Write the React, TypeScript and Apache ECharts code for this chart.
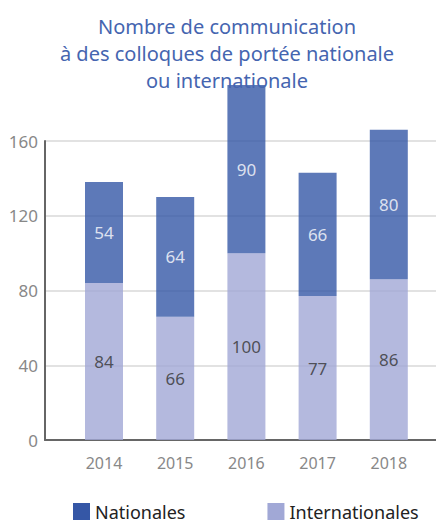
import React, { useEffect, useRef } from "react";
import * as echarts from "echarts";

const titleLines = ["Nombre de communication", "à des colloques de portée nationale", "ou internationale"];
const years = ["2014", "2015", "2016", "2017", "2018"];
const internationales = [84, 66, 100, 77, 86];
const nationales = [54, 64, 90, 66, 80];
const yTicks = { min: 0, max: 160, interval: 40 };
const seriesNames = ["Nationales", "Internationales"];

const DARK = "#3557a6";
const LIGHT = "#a1a8d6";
const FONT = "'Noto Sans', 'Open Sans', sans-serif";

export default function App() {
  const ref = useRef<HTMLDivElement>(null);
  useEffect(() => {
    if (!ref.current) return;
    const chart = echarts.init(ref.current, undefined, { renderer: "svg" });
    chart.setOption({
      animation: false,
      backgroundColor: "#ffffff",
      title: {
        text: titleLines.join("\n"),
        left: 222,
        top: 8,
        textAlign: "center",
        textStyle: {
          color: "#4565b0",
          fontSize: 20,
          fontWeight: "normal",
          fontFamily: FONT,
          lineHeight: 27,
          align: "center",
        },
      },
      legend: {
        data: [
          { name: seriesNames[0], itemStyle: { color: DARK, opacity: 1 } },
          { name: seriesNames[1], itemStyle: { color: LIGHT, opacity: 1 } },
        ],
        left: 73,
        top: 502,
        itemWidth: 17,
        itemHeight: 17,
        itemGap: 82,
        icon: "rect",
        padding: 0,
        textStyle: { color: "#222", fontSize: 18, lineHeight: 19, fontFamily: FONT },
      },
      grid: [
        { left: 45, right: 0, top: 141, bottom: 83 },
        { left: 68.4, width: 356, top: 141, bottom: 83 },
      ],
      xAxis: [
        {
          gridIndex: 0,
          type: "category",
          data: [""],
          axisLine: { show: true, lineStyle: { color: "#666", width: 2 } },
          axisTick: { show: false },
          axisLabel: { show: false },
        },
        {
          gridIndex: 1,
          type: "category",
          data: years,
          axisLine: { show: false },
          axisTick: { show: false },
          axisLabel: { color: "#888", fontSize: 16, margin: 15, fontFamily: FONT },
        },
      ],
      yAxis: [
        {
          gridIndex: 0,
          type: "value",
          min: yTicks.min,
          max: yTicks.max,
          interval: yTicks.interval,
          axisLine: { show: true, lineStyle: { color: "#666", width: 2 } },
          axisTick: { show: false },
          axisLabel: { color: "#888", fontSize: 17, margin: 7, fontFamily: FONT },
          splitLine: { show: true, lineStyle: { color: "#d8d8d8", width: 1.5 } },
        },
        {
          gridIndex: 1,
          type: "value",
          min: yTicks.min,
          max: yTicks.max,
          interval: yTicks.interval,
          show: false,
          splitLine: { show: false },
        },
      ],
      series: [
        {
          name: seriesNames[1],
          type: "bar",
          xAxisIndex: 1,
          yAxisIndex: 1,
          stack: "total",
          data: internationales,
          barWidth: 38,
          clip: false,
          itemStyle: { color: LIGHT, opacity: 0.8 },
          label: { show: true, position: "inside", color: "#333", fontSize: 17, fontFamily: FONT },
        },
        {
          name: seriesNames[0],
          type: "bar",
          xAxisIndex: 1,
          yAxisIndex: 1,
          stack: "total",
          data: nationales,
          barWidth: 38,
          clip: false,
          itemStyle: { color: DARK, opacity: 0.8 },
          label: { show: true, position: "inside", color: "#fff", fontSize: 17, fontFamily: FONT },
        },
      ],
    });
    return () => chart.dispose();
  }, []);
  return (
    <div
      ref={ref}
      style={{ position: "fixed", left: 0, top: 0, width: 436, height: 523 }}
    />
  );
}
